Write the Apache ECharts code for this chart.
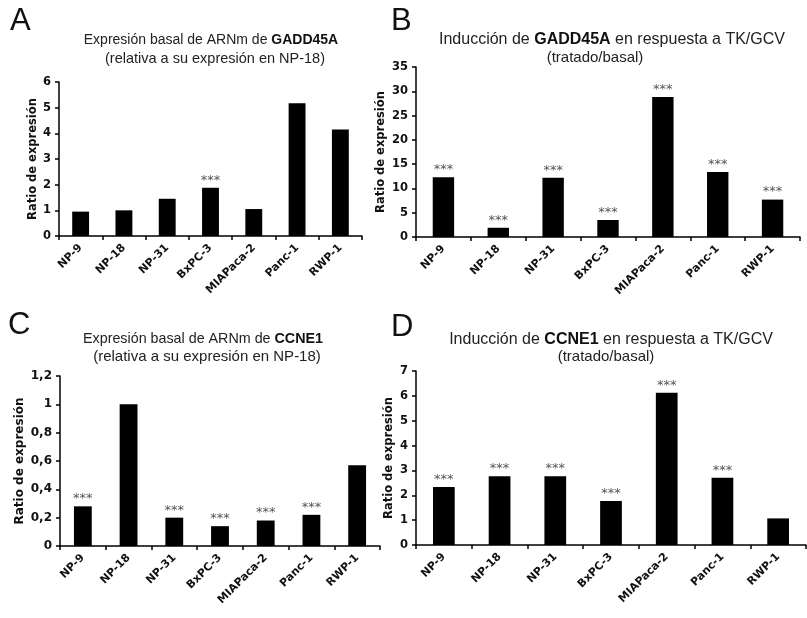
<!DOCTYPE html>
<html>
<head>
<meta charset="utf-8">
<script src="https://cdn.jsdelivr.net/npm/echarts@6/dist/echarts.min.js"></script>
<style>
  html, body { margin: 0; padding: 0; background: #fff; }
  #chart { width: 807px; height: 618px; }
</style>
</head>
<body>
<div id="chart"></div>
<script>
// líneas celulares (mismo orden en los cuatro paneles)
const categories = ['NP-9', 'NP-18', 'NP-31', 'BxPC-3', 'MIAPaca-2', 'Panc-1', 'RWP-1'];

// A: expresión basal GADD45A
const basalGadd = [0.95, 1.0, 1.45, 1.88, 1.05, 5.17, 4.15];
const sigBasalGadd = [false, false, false, true, false, false, false];
// B: inducción GADD45A
const indGadd = [12.3, 1.9, 12.2, 3.5, 28.8, 13.4, 7.7];
const sigIndGadd = [true, true, true, true, true, true, true];
// C: expresión basal CCNE1
const basalCcne = [0.28, 1.0, 0.2, 0.14, 0.18, 0.22, 0.57];
const sigBasalCcne = [true, false, true, true, true, true, false];
// D: inducción CCNE1
const indCcne = [2.33, 2.77, 2.77, 1.77, 6.13, 2.71, 1.07];
const sigIndCcne = [true, true, true, true, true, true, false];

// marcas del eje y
const ticksA = ['0', '1', '2', '3', '4', '5', '6'];
const ticksB = ['0', '5', '10', '15', '20', '25', '30', '35'];
const ticksC = ['0', '0,2', '0,4', '0,6', '0,8', '1', '1,2'];
const ticksD = ['0', '1', '2', '3', '4', '5', '6', '7'];

const yName = 'Ratio de expresión';
const tickFont = 'DejaVu Sans';
const titleFont = 'Liberation Sans';

// posición de cada panel (px)
const panels = [
  { grid: { left: 59, top: 82, width: 303, height: 154 }, data: basalGadd, sig: sigBasalGadd, ticks: ticksA, step: 1, nameGap: 19, tickSize: 11.5, nameSize: 11.5 },
  { grid: { left: 416, top: 67, width: 384, height: 170 }, data: indGadd, sig: sigIndGadd, ticks: ticksB, step: 5, nameGap: 29, tickSize: 11.5, nameSize: 11.5 },
  { grid: { left: 60, top: 376, width: 320, height: 170 }, data: basalCcne, sig: sigBasalCcne, ticks: ticksC, step: 0.2, nameGap: 34, tickSize: 12, nameSize: 12 },
  { grid: { left: 416, top: 371, width: 390, height: 174 }, data: indCcne, sig: sigIndCcne, ticks: ticksD, step: 1, nameGap: 21, tickSize: 11.5, nameSize: 11.5 },
];

let myChart = echarts.init(document.getElementById('chart'), null, { renderer: 'canvas' });

const letters = [['A', 10, 6], ['B', 391, 6], ['C', 8, 310], ['D', 391, 312]];

let titles = letters.map(([t, x, y]) => ({
  text: t, left: x, top: y, padding: 0,
  textStyle: { fontFamily: titleFont, fontWeight: 'normal', fontSize: 31, color: '#111' },
}));

function titleLine(text, x, y, size) {
  return {
    text: text, left: x, top: y, padding: 0, textAlign: 'center',
    textStyle: {
      fontFamily: titleFont, fontWeight: 'normal', fontSize: size, color: '#222',
      rich: {
        b: { fontFamily: titleFont, fontWeight: 'bold', fontSize: size, color: '#111' },
      },
    },
  };
}

titles.push(
  titleLine('Expresión basal de ARNm de {b|GADD45A}', 211, 33, 14),
  titleLine('(relativa a su expresión en NP-18)', 215, 51, 14.5),
  titleLine('Inducción de {b|GADD45A} en respuesta a TK/GCV', 612, 32, 16),
  titleLine('(tratado/basal)', 595, 50, 15),
  titleLine('Expresión basal de ARNm de {b|CCNE1}', 203, 332, 14.3),
  titleLine('(relativa a su expresión en NP-18)', 207, 349, 15),
  titleLine('Inducción de {b|CCNE1} en respuesta a TK/GCV', 611, 332, 16),
  titleLine('(tratado/basal)', 606, 349, 15)
);

let option = {
  animation: false,
  backgroundColor: '#fff',
  title: titles,
  grid: panels.map((p) => Object.assign({ containLabel: false }, p.grid)),
  xAxis: panels.map((p, i) => ({
    type: 'category',
    gridIndex: i,
    data: categories,
    boundaryGap: true,
    axisLine: { lineStyle: { color: '#000', width: 1.5 } },
    axisTick: { show: true, length: 4, lineStyle: { color: '#000', width: 1.5 } },
    axisLabel: {
      interval: 0,
      rotate: 45,
      margin: 10,
      fontFamily: tickFont,
      fontWeight: 'bold',
      fontSize: 11,
      color: '#111',
    },
  })),
  yAxis: panels.map((p, i) => ({
    type: 'value',
    gridIndex: i,
    min: 0,
    max: (p.ticks.length - 1) * p.step,
    interval: p.step,
    name: yName,
    nameLocation: 'middle',
    nameGap: p.nameGap,
    nameTextStyle: { fontFamily: tickFont, fontWeight: 'bold', fontSize: p.nameSize, color: '#111' },
    splitLine: { show: false },
    axisLine: { show: true, lineStyle: { color: '#000', width: 1.5 } },
    axisTick: { show: true, length: 4, lineStyle: { color: '#000', width: 1.5 } },
    axisLabel: {
      margin: 8,
      fontFamily: tickFont,
      fontWeight: 'bold',
      fontSize: p.tickSize,
      color: '#111',
      formatter: (v) => p.ticks[Math.round(v / p.step)],
    },
  })),
  series: panels.map((p, i) => ({
    type: 'bar',
    xAxisIndex: i,
    yAxisIndex: i,
    data: p.data,
    barWidth: '39%',
    itemStyle: { color: '#000' },
    label: {
      show: true,
      position: 'top',
      distance: 1,
      fontFamily: tickFont,
      fontSize: 13,
      color: '#555',
      // asteriscos solo donde hay significancia
      formatter: (params) => (p.sig[params.dataIndex] ? '***' : ''),
    },
  })),
};

myChart.setOption(option, true);
</script>
</body>
</html>
